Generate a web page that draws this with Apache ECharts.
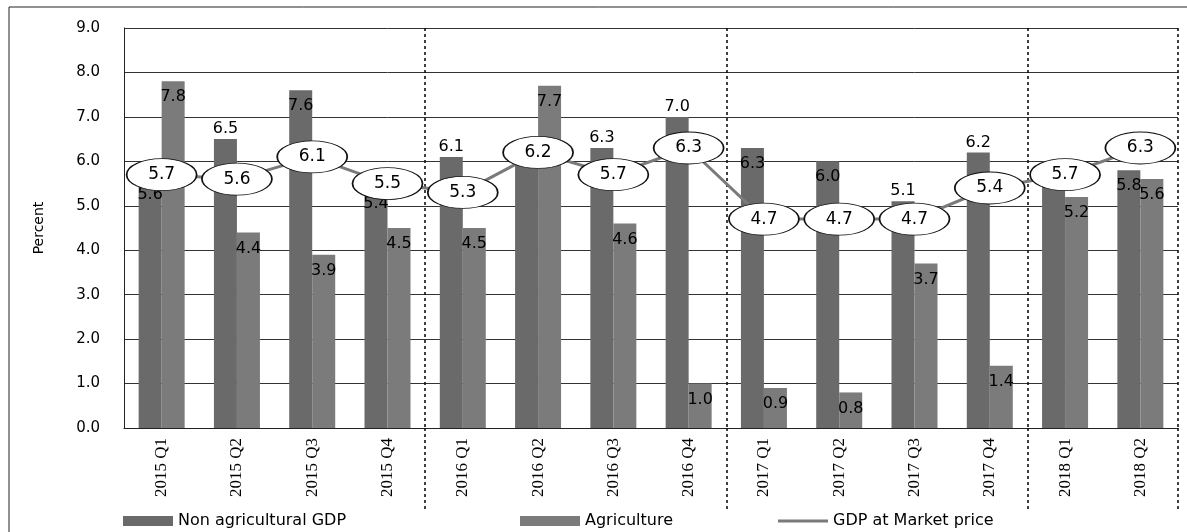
<!DOCTYPE html>
<html>
<head>
<meta charset="utf-8">
<script src="https://cdn.jsdelivr.net/npm/echarts@6/dist/echarts.min.js"></script>
<style>
  html, body { margin: 0; padding: 0; background: #fff; }
  #chart { width: 1187px; height: 532px; }
</style>
</head>
<body>
<div id="chart"></div>
<script>
// Quarterly growth, percent
const categories = ['2015 Q1', '2015 Q2', '2015 Q3', '2015 Q4',
                    '2016 Q1', '2016 Q2', '2016 Q3', '2016 Q4',
                    '2017 Q1', '2017 Q2', '2017 Q3', '2017 Q4',
                    '2018 Q1', '2018 Q2'];
const nonAgricultural = [5.6, 6.5, 7.6, 5.4, 6.1, 6.4, 6.3, 7.0, 6.3, 6.0, 5.1, 6.2, 6.0, 5.8];
const agriculture     = [7.8, 4.4, 3.9, 4.5, 4.5, 7.7, 4.6, 1.0, 0.9, 0.8, 3.7, 1.4, 5.2, 5.6];
const gdpMarket       = [5.7, 5.6, 6.1, 5.5, 5.3, 6.2, 5.7, 6.3, 4.7, 4.7, 4.7, 5.4, 5.7, 6.3];
const yTicks = [0, 1, 2, 3, 4, 5, 6, 7, 8, 9];

// bars whose value label sits above the bar rather than inside its top
const labelAbove = new Set([1, 4, 6, 7, 10, 11]);

// first quarter of each new year gets a dashed separator
const yearStarts = categories
  .map((c, i) => (i > 0 && c.slice(0, 4) !== categories[i - 1].slice(0, 4)) ? i : -1)
  .filter(i => i >= 0);

const sans = 'DejaVu Sans';
const ellipse = 'path://M0,50 A50,50 0 1,1 100,50 A50,50 0 1,1 0,50 Z';

const chart = echarts.init(document.getElementById('chart'), null, { renderer: 'canvas' });

chart.setOption({
  animation: false,
  backgroundColor: '#fff',
  textStyle: { fontFamily: sans, color: '#000' },
  graphic: [{
    type: 'rect',
    shape: { x: 9, y: 7, width: 1200, height: 540 },
    style: { fill: 'none', stroke: '#222', lineWidth: 1 },
    silent: true
  }],
  grid: { left: 124, right: 9, top: 28, bottom: 104 },
  legend: [
    {
      left: 118, top: 508, itemWidth: 50, itemHeight: 10, itemGap: 4,
      textStyle: { fontFamily: sans, fontSize: 16, color: '#000' },
      data: [{ name: 'Non agricultural GDP', icon: 'rect' }]
    },
    {
      left: 515, top: 508, itemWidth: 60, itemHeight: 10, itemGap: 4,
      textStyle: { fontFamily: sans, fontSize: 16, color: '#000' },
      data: [{ name: 'Agriculture', icon: 'rect' }]
    },
    {
      left: 773, top: 508, itemWidth: 50, itemHeight: 3, itemGap: 4,
      textStyle: { fontFamily: sans, fontSize: 16, color: '#000' },
      data: [{
        name: 'GDP at Market price',
        icon: 'rect',
        itemStyle: { color: '#7a7a7a', borderWidth: 0 }
      }]
    }
  ],
  xAxis: {
    type: 'category',
    data: categories,
    boundaryGap: true,
    axisLine: { show: true, lineStyle: { color: '#222', width: 1 } },
    axisTick: {
      show: true,
      interval: (i) => yearStarts.includes(i),
      length: 84,
      lineStyle: { color: '#111', width: 1.6, type: [3, 3] }
    },
    splitLine: {
      show: true,
      interval: (i) => yearStarts.includes(i),
      lineStyle: { color: '#111', width: 1.6, type: [3, 3] }
    },
    axisLabel: {
      rotate: 90,
      interval: 0,
      margin: 10,
      fontFamily: 'Liberation Serif',
      fontSize: 17,
      color: '#000'
    }
  },
  yAxis: {
    type: 'value',
    min: yTicks[0],
    max: yTicks[yTicks.length - 1],
    interval: 1,
    name: 'Percent',
    nameLocation: 'middle',
    nameGap: 78,
    nameRotate: 90,
    nameTextStyle: { fontFamily: sans, fontSize: 14, color: '#000' },
    axisLine: { show: true, lineStyle: { color: '#222', width: 1 } },
    axisTick: { show: false },
    splitLine: { show: true, lineStyle: { color: '#333', width: 1 } },
    axisLabel: {
      margin: 24,
      fontFamily: sans,
      fontSize: 15,
      color: '#000',
      formatter: (v) => v.toFixed(1)
    }
  },
  series: [
    {
      name: 'Non agricultural GDP',
      type: 'bar',
      barWidth: 23,
      barGap: '0%',
      itemStyle: { color: '#6a6a6a' },
      label: {
        show: true,
        fontFamily: sans,
        fontSize: 16,
        color: '#000',
        formatter: (p) => p.value.toFixed(1)
      },
      data: nonAgricultural.map((v, i) => ({
        value: v,
        label: labelAbove.has(i)
          ? { position: 'top', distance: 2 }
          : { position: 'insideTop', distance: 8 }
      }))
    },
    {
      name: 'Agriculture',
      type: 'bar',
      barWidth: 23,
      barGap: '0%',
      itemStyle: { color: '#7b7b7b' },
      label: {
        show: true,
        position: 'insideTop',
        distance: 8,
        fontFamily: sans,
        fontSize: 16,
        color: '#000',
        formatter: (p) => p.value.toFixed(1)
      },
      data: agriculture
    },
    {
      name: 'GDP at Market price',
      type: 'line',
      data: gdpMarket,
      symbol: ellipse,
      symbolSize: [70, 32],
      lineStyle: { color: '#7a7a7a', width: 3 },
      itemStyle: { color: '#fff', borderColor: '#111', borderWidth: 1.2 },
      label: {
        show: true,
        position: 'inside',
        fontFamily: sans,
        fontSize: 17,
        color: '#000',
        formatter: (p) => p.value.toFixed(1)
      },
      z: 5
    }
  ]
});
</script>
</body>
</html>
